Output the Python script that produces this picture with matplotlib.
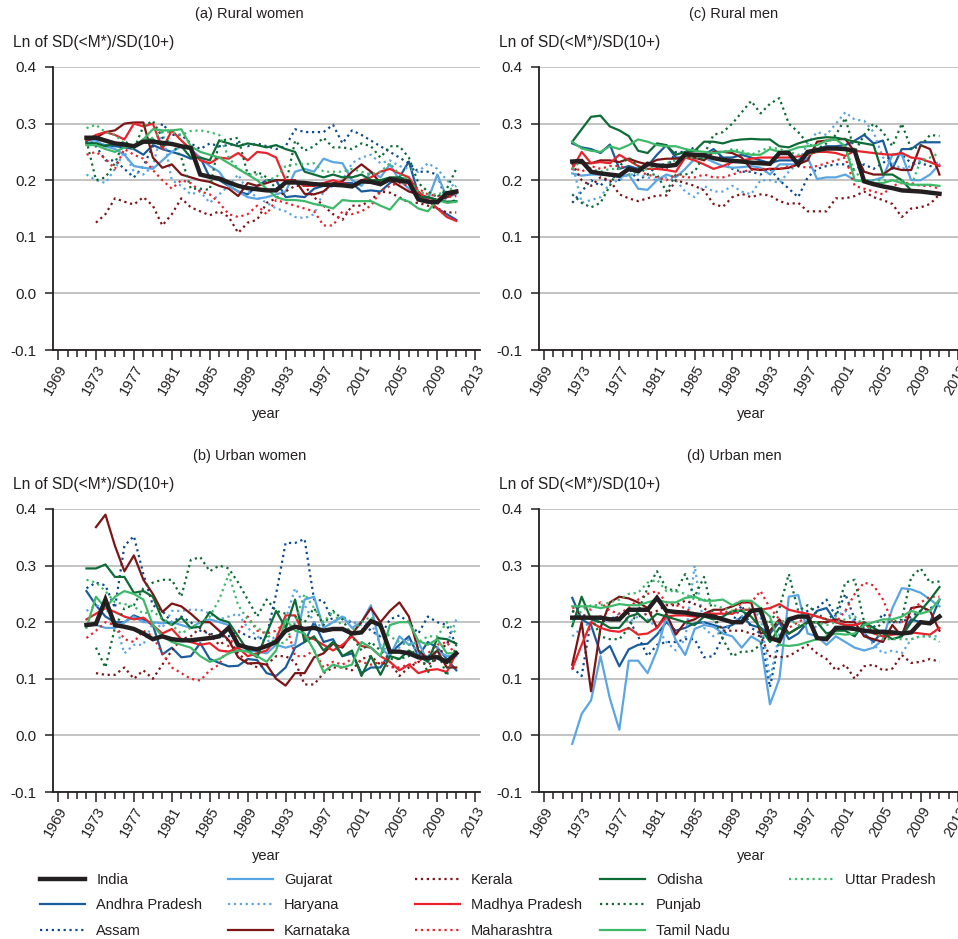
import numpy as np
import matplotlib
matplotlib.use("Agg")
import matplotlib.pyplot as plt
from matplotlib.ticker import FixedLocator
from matplotlib.lines import Line2D

plt.rcParams['font.family'] = ['Liberation Sans', 'DejaVu Sans']

nan = np.nan
years = list(range(1972, 2012))

states = ["India", "Andhra Pradesh", "Assam", "Gujarat", "Haryana", "Karnataka", "Kerala",
          "Madhya Pradesh", "Maharashtra", "Odisha", "Punjab", "Tamil Nadu", "Uttar Pradesh"]

# (a) Rural women
rural_women = {
    "India": [0.275, 0.275, 0.270, 0.265, 0.263, 0.260, 0.268, 0.268, 0.266, 0.264,
              0.260, 0.257, 0.210, 0.206, 0.203, 0.196, 0.190, 0.186, 0.184, 0.182,
              0.182, 0.196, 0.196, 0.195, 0.193, 0.192, 0.192, 0.191, 0.189, 0.198,
              0.197, 0.193, 0.202, 0.199, 0.197, 0.166, 0.162, 0.161, 0.177, 0.180],
    "Andhra Pradesh": [0.265, 0.265, 0.262, 0.260, 0.258, 0.255, 0.245, 0.262, 0.255, 0.250,
                       0.245, 0.238, 0.240, 0.205, 0.200, 0.190, 0.180, 0.175, 0.190, 0.200,
                       0.200, 0.170, 0.172, 0.170, 0.185, 0.190, 0.190, 0.195, 0.195, 0.180,
                       0.182, 0.180, 0.195, 0.205, 0.233, 0.175, 0.165, 0.150, 0.140, 0.130],
    "Assam": [0.275, 0.260, 0.235, 0.235, 0.220, 0.205, 0.225, 0.260, 0.300, 0.280,
              0.280, 0.265, 0.255, 0.265, 0.260, 0.262, 0.265, 0.260, 0.265, 0.260,
              0.255, 0.260, 0.290, 0.285, 0.285, 0.285, 0.298, 0.265, 0.288, 0.280,
              0.270, 0.260, 0.250, 0.240, 0.230, 0.215, 0.215, 0.210, 0.160, 0.165],
    "Gujarat": [0.270, 0.270, 0.260, 0.255, 0.245, 0.225, 0.222, 0.220, 0.235, 0.250,
                0.260, 0.255, 0.240, 0.225, 0.215, 0.190, 0.180, 0.170, 0.167, 0.170,
                0.175, 0.180, 0.215, 0.220, 0.215, 0.238, 0.232, 0.230, 0.200, 0.190,
                0.215, 0.205, 0.228, 0.200, 0.185, 0.175, 0.165, 0.210, 0.170, 0.175],
    "Haryana": [0.210, 0.200, 0.195, 0.220, 0.250, 0.215, 0.210, 0.225, 0.290, 0.200,
                0.190, 0.175, 0.180, 0.160, 0.175, 0.190, 0.210, 0.180, 0.170, 0.160,
                0.150, 0.145, 0.135, 0.133, 0.140, 0.180, 0.190, 0.200, 0.230, 0.240,
                0.245, 0.230, 0.235, 0.225, 0.220, 0.215, 0.230, 0.220, 0.200, 0.185],
    "Karnataka": [0.270, 0.275, 0.285, 0.288, 0.300, 0.302, 0.302, 0.240, 0.222, 0.228,
                  0.210, 0.205, 0.200, 0.197, 0.190, 0.185, 0.172, 0.195, 0.190, 0.195,
                  0.200, 0.200, 0.200, 0.176, 0.175, 0.180, 0.195, 0.198, 0.215, 0.228,
                  0.215, 0.195, 0.200, 0.190, 0.180, 0.175, 0.170, 0.165, 0.170, 0.178],
    "Kerala": [nan, 0.125, 0.140, 0.168, 0.162, 0.157, 0.170, 0.155, 0.120, 0.140,
               0.168, 0.152, 0.145, 0.138, 0.145, 0.135, 0.107, 0.125, 0.130, 0.160,
               0.168, 0.180, 0.190, 0.190, 0.170, 0.155, 0.140, 0.130, 0.155, 0.155,
               0.165, 0.180, 0.178, 0.170, 0.160, 0.160, 0.155, 0.150, 0.143, 0.143],
    "Madhya Pradesh": [0.270, 0.280, 0.285, 0.280, 0.272, 0.300, 0.295, 0.300, 0.255, 0.288,
                       0.270, 0.255, 0.235, 0.230, 0.240, 0.238, 0.248, 0.235, 0.250, 0.248,
                       0.240, 0.200, 0.198, 0.190, 0.190, 0.195, 0.200, 0.195, 0.190, 0.200,
                       0.205, 0.215, 0.220, 0.212, 0.205, 0.180, 0.165, 0.150, 0.135, 0.128],
    "Maharashtra": [0.245, 0.250, 0.238, 0.220, 0.255, 0.245, 0.238, 0.218, 0.200, 0.185,
                    0.200, 0.195, 0.180, 0.175, 0.160, 0.140, 0.135, 0.140, 0.155, 0.140,
                    0.165, 0.160, 0.155, 0.150, 0.145, 0.120, 0.120, 0.145, 0.140, 0.145,
                    0.155, 0.180, 0.190, 0.195, 0.190, 0.185, 0.175, 0.172, 0.170, 0.172],
    "Odisha": [0.265, 0.265, 0.260, 0.265, 0.262, 0.260, 0.272, 0.272, 0.262, 0.265,
               0.260, 0.240, 0.240, 0.235, 0.270, 0.265, 0.260, 0.265, 0.262, 0.258,
               0.262, 0.255, 0.250, 0.215, 0.210, 0.205, 0.210, 0.205, 0.205, 0.210,
               0.200, 0.200, 0.205, 0.205, 0.200, 0.170, 0.170, 0.165, 0.162, 0.163],
    "Punjab": [0.270, 0.200, 0.205, 0.230, 0.270, 0.255, 0.295, 0.305, 0.275, 0.265,
               0.240, 0.185, 0.185, 0.183, 0.270, 0.272, 0.275, 0.210, 0.215, 0.205,
               0.185, 0.190, 0.270, 0.252, 0.260, 0.275, 0.258, 0.258, 0.255, 0.265,
               0.260, 0.240, 0.260, 0.260, 0.240, 0.195, 0.180, 0.170, 0.185, 0.220],
    "Tamil Nadu": [0.262, 0.262, 0.255, 0.250, 0.258, 0.260, 0.272, 0.290, 0.288, 0.288,
                   0.290, 0.260, 0.250, 0.245, 0.240, 0.230, 0.220, 0.210, 0.200, 0.185,
                   0.170, 0.165, 0.165, 0.163, 0.158, 0.155, 0.150, 0.165, 0.163, 0.163,
                   0.163, 0.155, 0.148, 0.168, 0.162, 0.150, 0.145, 0.165, 0.160, 0.162],
    "Uttar Pradesh": [0.292, 0.298, 0.285, 0.280, 0.265, 0.255, 0.270, 0.275, 0.285, 0.285,
                      0.280, 0.287, 0.288, 0.285, 0.280, 0.240, 0.220, 0.210, 0.210, 0.200,
                      0.205, 0.225, 0.228, 0.228, 0.230, 0.215, 0.215, 0.215, 0.220, 0.215,
                      0.210, 0.215, 0.230, 0.210, 0.200, 0.180, 0.175, 0.175, 0.180, 0.190],
}

# (c) Rural men
rural_men = {
    "India": [0.233, 0.234, 0.215, 0.212, 0.210, 0.208, 0.220, 0.216, 0.229, 0.226,
              0.225, 0.227, 0.246, 0.245, 0.244, 0.239, 0.236, 0.234, 0.233, 0.231,
              0.230, 0.229, 0.248, 0.248, 0.228, 0.250, 0.253, 0.256, 0.256, 0.255,
              0.252, 0.198, 0.193, 0.189, 0.186, 0.182, 0.181, 0.180, 0.178, 0.176],
    "Andhra Pradesh": [0.265, 0.258, 0.255, 0.248, 0.263, 0.220, 0.225, 0.220, 0.225, 0.245,
                       0.262, 0.240, 0.240, 0.242, 0.245, 0.255, 0.240, 0.240, 0.245, 0.240,
                       0.235, 0.230, 0.235, 0.235, 0.235, 0.250, 0.255, 0.260, 0.260, 0.262,
                       0.270, 0.280, 0.265, 0.270, 0.220, 0.255, 0.255, 0.267, 0.267, 0.267],
    "Assam": [0.160, 0.180, 0.200, 0.190, 0.210, 0.200, 0.220, 0.200, 0.210, 0.225,
              0.220, 0.250, 0.250, 0.258, 0.240, 0.250, 0.240, 0.220, 0.215, 0.215,
              0.210, 0.220, 0.200, 0.185, 0.170, 0.205, 0.220, 0.225, 0.228, 0.228,
              0.218, 0.228, 0.220, 0.230, 0.245, 0.245, 0.230, 0.230, 0.225, 0.225],
    "Gujarat": [0.212, 0.208, 0.210, 0.210, 0.210, 0.205, 0.210, 0.185, 0.183, 0.200,
                0.210, 0.205, 0.220, 0.238, 0.240, 0.232, 0.225, 0.222, 0.223, 0.225,
                0.222, 0.210, 0.228, 0.228, 0.228, 0.240, 0.202, 0.205, 0.205, 0.210,
                0.200, 0.198, 0.200, 0.205, 0.245, 0.245, 0.200, 0.200, 0.210, 0.228],
    "Haryana": [0.230, 0.160, 0.165, 0.170, 0.195, 0.200, 0.210, 0.210, 0.205, 0.200,
                0.205, 0.200, 0.180, 0.170, 0.190, 0.180, 0.180, 0.190, 0.180, 0.175,
                0.200, 0.200, 0.195, 0.215, 0.230, 0.265, 0.285, 0.280, 0.300, 0.320,
                0.307, 0.305, 0.285, 0.240, 0.230, 0.220, 0.225, 0.235, 0.232, 0.230],
    "Karnataka": [0.232, 0.230, 0.230, 0.235, 0.235, 0.232, 0.238, 0.232, 0.228, 0.236,
                  0.238, 0.238, 0.240, 0.240, 0.235, 0.250, 0.250, 0.248, 0.240, 0.220,
                  0.218, 0.220, 0.220, 0.222, 0.228, 0.235, 0.268, 0.270, 0.272, 0.273,
                  0.250, 0.215, 0.210, 0.210, 0.222, 0.218, 0.218, 0.262, 0.255, 0.210],
    "Kerala": [0.230, 0.200, 0.190, 0.205, 0.200, 0.175, 0.168, 0.163, 0.168, 0.173,
               0.173, 0.200, 0.195, 0.190, 0.182, 0.158, 0.153, 0.170, 0.176, 0.170,
               0.175, 0.173, 0.163, 0.158, 0.160, 0.145, 0.145, 0.145, 0.168, 0.168,
               0.172, 0.180, 0.170, 0.165, 0.158, 0.135, 0.150, 0.152, 0.158, 0.175],
    "Madhya Pradesh": [0.220, 0.250, 0.230, 0.232, 0.230, 0.245, 0.235, 0.225, 0.220, 0.220,
                       0.218, 0.215, 0.240, 0.235, 0.228, 0.220, 0.225, 0.232, 0.235, 0.238,
                       0.240, 0.240, 0.240, 0.240, 0.242, 0.245, 0.250, 0.250, 0.248, 0.243,
                       0.252, 0.250, 0.248, 0.246, 0.245, 0.248, 0.240, 0.238, 0.232, 0.225],
    "Maharashtra": [0.225, 0.215, 0.225, 0.220, 0.225, 0.225, 0.220, 0.215, 0.210, 0.205,
                    0.200, 0.210, 0.205, 0.205, 0.210, 0.205, 0.205, 0.210, 0.215, 0.218,
                    0.220, 0.220, 0.220, 0.225, 0.225, 0.222, 0.225, 0.230, 0.235, 0.240,
                    0.190, 0.185, 0.180, 0.175, 0.190, 0.195, 0.195, 0.190, 0.190, 0.185],
    "Odisha": [0.268, 0.290, 0.312, 0.314, 0.295, 0.288, 0.278, 0.252, 0.248, 0.265,
               0.262, 0.245, 0.250, 0.252, 0.268, 0.268, 0.265, 0.270, 0.272, 0.273,
               0.272, 0.272, 0.260, 0.258, 0.265, 0.270, 0.274, 0.276, 0.275, 0.272,
               0.268, 0.265, 0.262, 0.210, 0.210, 0.200, 0.182, 0.180, 0.178, 0.175],
    "Punjab": [0.175, 0.160, 0.152, 0.160, 0.190, 0.225, 0.240, 0.225, 0.210, 0.210,
               0.180, 0.210, 0.210, 0.215, 0.245, 0.280, 0.285, 0.300, 0.320, 0.340,
               0.318, 0.335, 0.345, 0.300, 0.285, 0.265, 0.255, 0.265, 0.280, 0.310,
               0.250, 0.280, 0.300, 0.285, 0.260, 0.300, 0.255, 0.260, 0.280, 0.278],
    "Tamil Nadu": [0.268, 0.256, 0.252, 0.250, 0.260, 0.255, 0.262, 0.272, 0.268, 0.262,
                   0.260, 0.260, 0.255, 0.252, 0.250, 0.248, 0.250, 0.252, 0.248, 0.245,
                   0.245, 0.255, 0.250, 0.252, 0.258, 0.260, 0.262, 0.270, 0.272, 0.260,
                   0.200, 0.198, 0.195, 0.195, 0.200, 0.195, 0.192, 0.192, 0.192, 0.190],
    "Uttar Pradesh": [0.220, 0.235, 0.220, 0.215, 0.220, 0.220, 0.210, 0.215, 0.220, 0.225,
                      0.230, 0.235, 0.240, 0.240, 0.240, 0.248, 0.250, 0.255, 0.252, 0.245,
                      0.252, 0.258, 0.255, 0.250, 0.245, 0.245, 0.250, 0.255, 0.258, 0.255,
                      0.215, 0.200, 0.200, 0.200, 0.200, 0.200, 0.190, 0.235, 0.240, 0.248],
}

# (b) Urban women
urban_women = {
    "India": [0.195, 0.197, 0.240, 0.195, 0.192, 0.188, 0.180, 0.170, 0.175, 0.170,
              0.168, 0.168, 0.170, 0.172, 0.175, 0.190, 0.160, 0.155, 0.152, 0.158,
              0.165, 0.185, 0.192, 0.188, 0.190, 0.185, 0.188, 0.188, 0.180, 0.182,
              0.202, 0.195, 0.148, 0.148, 0.145, 0.138, 0.137, 0.138, 0.130, 0.145],
    "Andhra Pradesh": [0.255, 0.230, 0.210, 0.200, 0.200, 0.212, 0.205, 0.195, 0.143, 0.155,
                       0.138, 0.140, 0.163, 0.135, 0.128, 0.122, 0.123, 0.135, 0.133, 0.110,
                       0.105, 0.120, 0.155, 0.165, 0.200, 0.165, 0.170, 0.140, 0.145, 0.110,
                       0.120, 0.120, 0.145, 0.160, 0.175, 0.140, 0.165, 0.155, 0.135, 0.115],
    "Assam": [0.260, 0.270, 0.265, 0.225, 0.335, 0.352, 0.285, 0.230, 0.220, 0.200,
              0.210, 0.200, 0.185, 0.180, 0.175, 0.175, 0.185, 0.175, 0.170, 0.175,
              0.250, 0.340, 0.340, 0.347, 0.240, 0.238, 0.200, 0.210, 0.198, 0.200,
              0.185, 0.175, 0.205, 0.212, 0.200, 0.180, 0.210, 0.200, 0.195, 0.160],
    "Gujarat": [0.195, 0.195, 0.190, 0.190, 0.200, 0.210, 0.200, 0.200, 0.198, 0.200,
                0.195, 0.190, 0.200, 0.205, 0.200, 0.195, 0.150, 0.150, 0.148, 0.145,
                0.160, 0.155, 0.160, 0.240, 0.245, 0.190, 0.200, 0.210, 0.190, 0.200,
                0.230, 0.155, 0.140, 0.175, 0.160, 0.165, 0.130, 0.150, 0.140, 0.140],
    "Haryana": [0.220, 0.230, 0.225, 0.200, 0.145, 0.160, 0.160, 0.200, 0.190, 0.220,
                0.220, 0.222, 0.222, 0.215, 0.205, 0.210, 0.215, 0.190, 0.175, 0.165,
                0.175, 0.205, 0.260, 0.230, 0.200, 0.190, 0.200, 0.210, 0.200, 0.195,
                0.200, 0.160, 0.145, 0.155, 0.170, 0.145, 0.140, 0.155, 0.160, 0.205],
    "Karnataka": [nan, 0.368, 0.390, 0.335, 0.290, 0.318, 0.275, 0.250, 0.218, 0.233,
                  0.228, 0.215, 0.200, 0.200, 0.185, 0.168, 0.138, 0.127, 0.128, 0.125,
                  0.100, 0.088, 0.110, 0.110, 0.138, 0.145, 0.162, 0.155, 0.180, 0.200,
                  0.225, 0.200, 0.220, 0.235, 0.210, 0.150, 0.135, 0.150, 0.120, 0.120],
    "Kerala": [nan, 0.110, 0.107, 0.107, 0.120, 0.100, 0.115, 0.100, 0.125, 0.150,
               0.170, 0.175, 0.190, 0.178, 0.160, 0.170, 0.145, 0.130, 0.120, 0.125,
               0.140, 0.140, 0.130, 0.090, 0.090, 0.110, 0.120, 0.120, 0.115, 0.135,
               0.140, 0.125, 0.130, 0.105, 0.120, 0.130, 0.125, 0.135, 0.165, 0.165],
    "Madhya Pradesh": [0.205, 0.215, 0.225, 0.218, 0.210, 0.205, 0.208, 0.195, 0.180, 0.188,
                       0.170, 0.165, 0.160, 0.163, 0.150, 0.148, 0.155, 0.140, 0.145, 0.150,
                       0.170, 0.212, 0.212, 0.175, 0.170, 0.160, 0.150, 0.160, 0.175, 0.158,
                       0.155, 0.140, 0.130, 0.115, 0.125, 0.110, 0.115, 0.117, 0.112, 0.145],
    "Maharashtra": [0.172, 0.185, 0.200, 0.195, 0.170, 0.165, 0.185, 0.175, 0.145, 0.120,
                    0.110, 0.100, 0.097, 0.115, 0.125, 0.160, 0.180, 0.210, 0.185, 0.180,
                    0.185, 0.200, 0.140, 0.140, 0.150, 0.120, 0.130, 0.125, 0.135, 0.130,
                    0.125, 0.130, 0.120, 0.120, 0.125, 0.130, 0.145, 0.160, 0.165, 0.140],
    "Odisha": [0.295, 0.295, 0.302, 0.280, 0.280, 0.252, 0.255, 0.245, 0.205, 0.195,
               0.208, 0.190, 0.192, 0.218, 0.205, 0.200, 0.175, 0.150, 0.138, 0.180,
               0.220, 0.190, 0.240, 0.165, 0.175, 0.150, 0.165, 0.140, 0.150, 0.105,
               0.140, 0.107, 0.140, 0.135, 0.150, 0.140, 0.130, 0.172, 0.170, 0.162],
    "Punjab": [nan, 0.155, 0.120, 0.190, 0.225, 0.230, 0.260, 0.270, 0.275, 0.275,
               0.245, 0.310, 0.315, 0.290, 0.300, 0.295, 0.270, 0.240, 0.210, 0.240,
               0.220, 0.215, 0.210, 0.200, 0.225, 0.195, 0.220, 0.205, 0.175, 0.150,
               0.165, 0.150, 0.135, 0.135, 0.140, 0.155, 0.110, 0.150, 0.105, 0.160],
    "Tamil Nadu": [0.190, 0.245, 0.225, 0.245, 0.255, 0.250, 0.240, 0.195, 0.175, 0.165,
                   0.160, 0.155, 0.140, 0.130, 0.135, 0.145, 0.150, 0.148, 0.140, 0.130,
                   0.150, 0.205, 0.185, 0.180, 0.150, 0.112, 0.125, 0.120, 0.125, 0.165,
                   0.155, 0.140, 0.195, 0.200, 0.200, 0.167, 0.160, 0.170, 0.145, 0.145],
    "Uttar Pradesh": [0.275, 0.270, 0.255, 0.235, 0.232, 0.228, 0.215, 0.220, 0.205, 0.195,
                      0.180, 0.190, 0.200, 0.210, 0.240, 0.285, 0.230, 0.205, 0.190, 0.180,
                      0.160, 0.165, 0.200, 0.250, 0.225, 0.200, 0.220, 0.190, 0.185, 0.200,
                      0.210, 0.190, 0.175, 0.165, 0.160, 0.165, 0.175, 0.175, 0.200, 0.180],
}

# (d) Urban men
urban_men = {
    "India": [0.208, 0.208, 0.208, 0.208, 0.205, 0.205, 0.222, 0.222, 0.222, 0.243,
              0.220, 0.218, 0.217, 0.214, 0.212, 0.210, 0.205, 0.200, 0.200, 0.220,
              0.222, 0.172, 0.167, 0.205, 0.210, 0.210, 0.172, 0.170, 0.190, 0.190,
              0.188, 0.185, 0.183, 0.183, 0.182, 0.180, 0.182, 0.200, 0.198, 0.210],
    "Andhra Pradesh": [0.243, 0.205, 0.195, 0.145, 0.158, 0.122, 0.152, 0.160, 0.162, 0.178,
                       0.200, 0.185, 0.190, 0.198, 0.200, 0.195, 0.190, 0.195, 0.210, 0.195,
                       0.190, 0.180, 0.200, 0.170, 0.180, 0.200, 0.220, 0.225, 0.200, 0.195,
                       0.190, 0.180, 0.165, 0.185, 0.180, 0.180, 0.205, 0.200, 0.200, 0.240],
    "Assam": [0.120, 0.105, 0.205, 0.200, 0.205, 0.210, 0.205, 0.175, 0.140, 0.160,
              0.165, 0.165, 0.170, 0.170, 0.138, 0.140, 0.175, 0.200, 0.230, 0.190,
              0.180, 0.085, 0.170, 0.200, 0.210, 0.220, 0.225, 0.240, 0.210, 0.250,
              0.205, 0.190, 0.190, 0.215, 0.200, 0.200, 0.210, 0.220, 0.225, 0.230],
    "Gujarat": [-0.015, 0.038, 0.062, 0.140, 0.065, 0.010, 0.132, 0.132, 0.110, 0.150,
                0.210, 0.168, 0.142, 0.188, 0.195, 0.192, 0.180, 0.175, 0.155, 0.175,
                0.165, 0.055, 0.100, 0.245, 0.248, 0.180, 0.175, 0.160, 0.175, 0.165,
                0.155, 0.150, 0.155, 0.170, 0.225, 0.260, 0.258, 0.252, 0.240, 0.228],
    "Haryana": [0.175, 0.190, 0.200, 0.210, 0.205, 0.215, 0.200, 0.210, 0.205, 0.190,
                0.165, 0.150, 0.170, 0.300, 0.190, 0.175, 0.185, 0.200, 0.210, 0.220,
                0.210, 0.100, 0.180, 0.200, 0.210, 0.200, 0.190, 0.200, 0.210, 0.220,
                0.200, 0.180, 0.160, 0.145, 0.150, 0.145, 0.170, 0.175, 0.175, 0.175],
    "Karnataka": [0.125, 0.200, 0.078, 0.190, 0.235, 0.245, 0.242, 0.235, 0.225, 0.190,
                  0.215, 0.178, 0.200, 0.205, 0.215, 0.222, 0.222, 0.228, 0.235, 0.235,
                  0.180, 0.185, 0.205, 0.180, 0.190, 0.200, 0.200, 0.200, 0.205, 0.200,
                  0.200, 0.175, 0.170, 0.165, 0.195, 0.175, 0.225, 0.228, 0.220, 0.185],
    "Kerala": [0.220, 0.215, 0.205, 0.210, 0.205, 0.210, 0.215, 0.210, 0.215, 0.220,
               0.230, 0.230, 0.238, 0.232, 0.225, 0.210, 0.185, 0.185, 0.185, 0.180,
               0.175, 0.140, 0.138, 0.140, 0.150, 0.160, 0.145, 0.135, 0.115, 0.125,
               0.100, 0.122, 0.125, 0.115, 0.118, 0.142, 0.128, 0.130, 0.135, 0.130],
    "Madhya Pradesh": [0.118, 0.160, 0.200, 0.190, 0.185, 0.183, 0.190, 0.178, 0.180, 0.190,
                       0.210, 0.212, 0.212, 0.210, 0.215, 0.215, 0.215, 0.215, 0.222, 0.222,
                       0.222, 0.225, 0.232, 0.222, 0.218, 0.215, 0.210, 0.205, 0.200, 0.195,
                       0.195, 0.200, 0.180, 0.175, 0.178, 0.180, 0.182, 0.180, 0.178, 0.190],
    "Maharashtra": [0.225, 0.228, 0.222, 0.235, 0.220, 0.215, 0.225, 0.240, 0.250, 0.255,
                    0.235, 0.230, 0.225, 0.215, 0.210, 0.210, 0.220, 0.215, 0.235, 0.235,
                    0.255, 0.225, 0.205, 0.190, 0.200, 0.210, 0.210, 0.205, 0.200, 0.220,
                    0.250, 0.270, 0.265, 0.240, 0.200, 0.200, 0.220, 0.235, 0.245, 0.245],
    "Odisha": [0.193, 0.245, 0.205, 0.200, 0.190, 0.190, 0.210, 0.215, 0.200, 0.215,
               0.210, 0.205, 0.200, 0.195, 0.210, 0.205, 0.210, 0.220, 0.220, 0.210,
               0.190, 0.165, 0.190, 0.180, 0.190, 0.200, 0.200, 0.180, 0.185, 0.185,
               0.175, 0.200, 0.190, 0.180, 0.170, 0.175, 0.200, 0.220, 0.240, 0.262],
    "Punjab": [0.220, 0.205, 0.210, 0.175, 0.170, 0.170, 0.190, 0.220, 0.260, 0.290,
               0.260, 0.255, 0.285, 0.245, 0.280, 0.210, 0.170, 0.140, 0.148, 0.148,
               0.160, 0.200, 0.225, 0.285, 0.220, 0.230, 0.215, 0.205, 0.215, 0.270,
               0.275, 0.200, 0.185, 0.200, 0.200, 0.205, 0.280, 0.295, 0.270, 0.272],
    "Tamil Nadu": [0.228, 0.228, 0.228, 0.225, 0.228, 0.232, 0.230, 0.230, 0.235, 0.240,
                   0.235, 0.235, 0.243, 0.245, 0.238, 0.238, 0.240, 0.230, 0.238, 0.238,
                   0.225, 0.210, 0.160, 0.158, 0.160, 0.165, 0.170, 0.175, 0.180, 0.178,
                   0.180, 0.195, 0.200, 0.205, 0.205, 0.210, 0.220, 0.215, 0.220, 0.240],
    "Uttar Pradesh": [0.200, 0.220, 0.230, 0.230, 0.235, 0.240, 0.250, 0.252, 0.270, 0.275,
                      0.255, 0.255, 0.250, 0.240, 0.240, 0.230, 0.225, 0.220, 0.220, 0.225,
                      0.215, 0.195, 0.200, 0.205, 0.195, 0.195, 0.200, 0.195, 0.200, 0.205,
                      0.210, 0.195, 0.185, 0.170, 0.170, 0.170, 0.170, 0.175, 0.175, 0.165],
}

DARK_BLUE = "#1b5d9c"
LIGHT_BLUE = "#5aa5e3"
DARK_RED = "#7d1517"
RED = "#e8232b"
DARK_GREEN = "#0e6b36"
GREEN = "#3db96a"
styles = {
    "India": ("#231f20", "-"),
    "Andhra Pradesh": (DARK_BLUE, "-"),
    "Assam": ("#0c4a8c", ":"),
    "Gujarat": (LIGHT_BLUE, "-"),
    "Haryana": (LIGHT_BLUE, ":"),
    "Karnataka": (DARK_RED, "-"),
    "Kerala": (DARK_RED, ":"),
    "Madhya Pradesh": (RED, "-"),
    "Maharashtra": (RED, ":"),
    "Odisha": (DARK_GREEN, "-"),
    "Punjab": (DARK_GREEN, ":"),
    "Tamil Nadu": (GREEN, "-"),
    "Uttar Pradesh": (GREEN, ":"),
}

TEXT = "#231f20"
W, H = 958, 939
fig = plt.figure(figsize=(W / 100, H / 100), dpi=100)


def px_axes(left, top, right, bottom):
    return fig.add_axes([left / W, (H - bottom) / H, (right - left) / W, (bottom - top) / H])


def draw_panel(ax, data, title):
    for s in states[1:]:
        c, ls = styles[s]
        ax.plot(years, data[s], color=c, linestyle=ls, lw=1.6, zorder=2)
    ax.plot(years, data["India"], color=styles["India"][0], lw=3.2, zorder=3,
            solid_joinstyle="miter")
    ax.set_xlim(1968.47, 2013.5)
    ax.set_ylim(-0.1, 0.4)
    ax.xaxis.set_major_locator(FixedLocator(list(range(1969, 2014, 4))))
    ax.xaxis.set_minor_locator(FixedLocator(list(range(1969, 2014))))
    ax.set_yticks([-0.1, 0.0, 0.1, 0.2, 0.3, 0.4])
    ax.set_yticklabels(["-0.1", "0.0", "0.1", "0.2", "0.3", "0.4"])
    ax.grid(axis="y", color="#b3b3b3", lw=1.1, zorder=0)
    for side in ("top", "right"):
        ax.spines[side].set_visible(False)
    for side in ("left", "bottom"):
        ax.spines[side].set_color(TEXT)
        ax.spines[side].set_linewidth(1.3)
    ax.tick_params(axis="x", which="major", length=7, width=1.1, color=TEXT, pad=2,
                   labelsize=10.5, labelcolor=TEXT)
    ax.tick_params(axis="x", which="minor", length=5, width=1.1, color=TEXT)
    ax.tick_params(axis="y", length=6, width=1.1, color=TEXT, pad=6,
                   labelsize=11, labelcolor=TEXT)
    for lab in ax.get_xticklabels():
        lab.set_rotation(60)
        lab.set_ha("right")
        lab.set_rotation_mode("anchor")
    h_px = 283.0
    ax.text(0.46, 1 + 53 / h_px, title, transform=ax.transAxes, ha="center", va="center",
            fontsize=10.5, color=TEXT)
    ax.text(-40 / 427, 1 + 25 / h_px, "Ln of SD(<M*)/SD(10+)", transform=ax.transAxes,
            ha="left", va="center", fontsize=11.2, color=TEXT)
    ax.text(0.5, -64 / h_px, "year", transform=ax.transAxes, ha="center", va="center",
            fontsize=10.5, color=TEXT)


ax_a = px_axes(53, 67, 480, 350)
ax_c = px_axes(539, 67, 963, 350)
ax_b = px_axes(53, 509, 480, 792)
ax_d = px_axes(539, 509, 963, 792)

draw_panel(ax_a, rural_women, "(a) Rural women")
draw_panel(ax_c, rural_men, "(c) Rural men")
draw_panel(ax_b, urban_women, "(b) Urban women")
draw_panel(ax_d, urban_men, "(d) Urban men")

# legend, laid out as fixed-width columns
columns = [states[0:3], states[3:6], states[6:9], states[9:12], states[12:13]]
col_x = [40, 228, 415, 600, 789]
for names, x0 in zip(columns, col_x):
    handles = []
    for s in names:
        c, ls = styles[s]
        handles.append(Line2D([], [], color=c, linestyle=ls, lw=3.2 if s == "India" else 1.6))
    leg = fig.legend(handles, names, loc="upper left", bbox_to_anchor=(x0 / W, (H - 873) / H),
                     frameon=False, borderpad=0, borderaxespad=0, handlelength=3.1,
                     handletextpad=0.75, labelspacing=0.78, fontsize=10.5)
    for t in leg.get_texts():
        t.set_color(TEXT)

fig.savefig("out.png", dpi=100)
